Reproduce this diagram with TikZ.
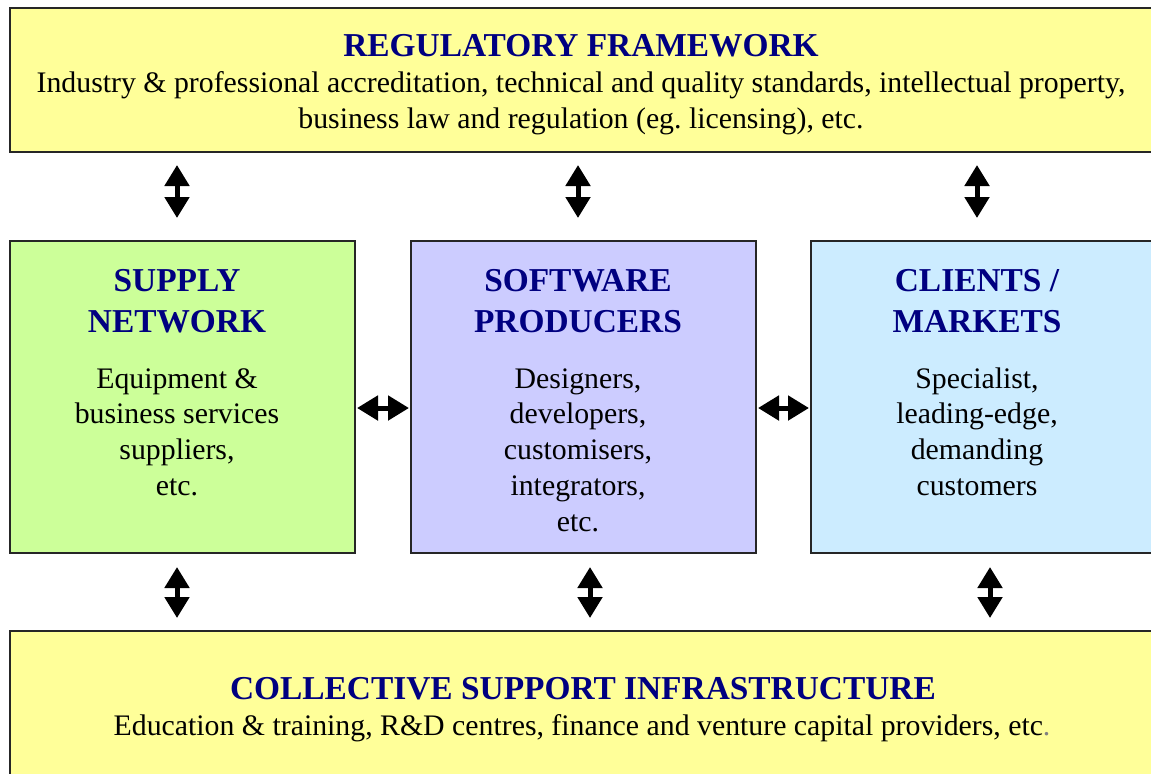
\documentclass[tikz,border=0pt]{standalone}
\usepackage{fontspec}
\setmainfont{Liberation Serif}
\usepackage{tikz}
\usetikzlibrary{arrows.meta}
\definecolor{regyellow}{HTML}{FFFF99}
\definecolor{supgreen}{HTML}{CCFF99}
\definecolor{softlilac}{HTML}{CCCCFF}
\definecolor{clientblue}{HTML}{CCECFF}
\definecolor{titlenavy}{HTML}{000080}
\tikzset{
    panel/.style={
           rectangle,
           draw=black!85, line width=1pt,
           inner sep=0pt,
           },
    midpanel/.style={
           panel,
           minimum width=172.5pt,
           minimum height=156pt,
           },
    heading/.style={
           anchor=base,
           align=center,
           inner sep=0pt,
           text=titlenavy,
           font=\fontsize{16.7}{20.5}\selectfont\bfseries,
           },
    body/.style={
           anchor=base,
           align=center,
           inner sep=0pt,
           font=\fontsize{14.9}{17.95}\selectfont,
           },
    dblarrow/.style={
           {Triangle[length=10.5pt,width=12pt]}-{Triangle[length=10.5pt,width=12pt]},
           line width=2.5pt,
           },
}

\begin{document}
\begin{tikzpicture}[x=0.5pt, y=-0.5pt]
    \useasboundingbox (0,0) rectangle (1151,773);

    % outer bands (top and bottom)
    \node[panel, fill=regyellow,
    minimum width=575pt, minimum height=72pt] (reg) at (585,80) {};
    \node[panel, fill=regyellow,
    minimum width=575pt, minimum height=84.5pt] (infra) at (585,715.5) {};

    % middle row
    \node[midpanel, fill=supgreen] (supply) at (182.5,397) {};
    \node[midpanel, fill=softlilac,
    right of=supply,
    node distance=200.5pt] (soft) {};
    \node[midpanel, fill=clientblue,
    right of=soft,
    node distance=200pt] (clients) {};

    % texts (base = baseline of the last line)
    \node[heading] (regtitle) at (581,56) {REGULATORY FRAMEWORK};
    \node[body] (regtext) at (581,128) {Industry \& professional accreditation, technical and quality standards, intellectual property,\\
        business law and regulation (eg.\ licensing), etc.};

    \node[heading] (suptitle) at (177,332) {SUPPLY\\NETWORK};
    \node[body] (suptext) at (177,495.7) {Equipment \&\\business services\\suppliers,\\etc.};

    \node[heading] (softtitle) at (578,332) {SOFTWARE\\PRODUCERS};
    \node[body] (softtext) at (578,531.6) {Designers,\\developers,\\customisers,\\integrators,\\etc.};

    \node[heading] (clititle) at (977,332) {CLIENTS /\\MARKETS};
    \node[body] (clitext) at (977,495.7) {Specialist,\\leading-edge,\\demanding\\customers};

    \node[heading] (infratitle) at (583,699) {COLLECTIVE SUPPORT INFRASTRUCTURE};
    \node[body] (infratext) at (582,735) {Education \& training, R\&D centres, finance and venture capital providers, etc\textcolor{gray}{.}};

    % foot points of the lower arrows
    \coordinate (softlow) at ([xshift=3.25pt]soft.south);
    \coordinate (clilow) at ([xshift=3.25pt]clients.south);

    % the arrows
    \path
        (reg.south -| suptitle)   edge[dblarrow, shorten <=6pt, shorten >=11pt] (supply.north -| suptitle)
        (reg.south -| softtitle)  edge[dblarrow, shorten <=6pt, shorten >=11pt] (soft.north -| softtitle)
        (reg.south -| clititle)   edge[dblarrow, shorten <=6pt, shorten >=11pt] (clients.north -| clititle)

        ([yshift=-5.5pt]supply.east) edge[dblarrow, shorten <=0.5pt, shorten >=0.5pt] ([yshift=-5.5pt]soft.west)
        ([yshift=-5.5pt]soft.east)   edge[dblarrow, shorten <=0.5pt, shorten >=0.5pt] ([yshift=-5.5pt]clients.west)

        (supply.south -| suptitle) edge[dblarrow, shorten <=6.5pt, shorten >=6pt] (infra.north -| suptitle)
        (softlow)                  edge[dblarrow, shorten <=6.5pt, shorten >=6pt] (softlow |- infra.north)
        (clilow)                   edge[dblarrow, shorten <=6.5pt, shorten >=6pt] (clilow |- infra.north)
        ;
\end{tikzpicture}
\end{document}
